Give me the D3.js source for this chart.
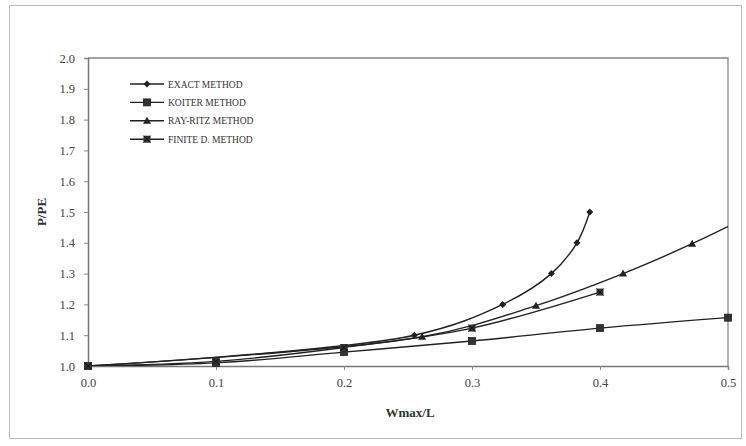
<!DOCTYPE html>
<html>
<head>
<meta charset="utf-8">
<script src="https://cdn.jsdelivr.net/npm/d3@7/dist/d3.min.js"></script>
<style>
  body { margin: 0; background: #fff; }
  svg { display: block; font-family: "Liberation Serif", "Times New Roman", serif; }
  .tick text { fill: #444; font-size: 12.5px; }
</style>
</head>
<body>
<svg width="746" height="446"></svg>
<script>
// series: [Wmax/L, P/PE]
const exactPts = [[0, 1.0], [0.255, 1.1], [0.324, 1.2], [0.362, 1.3], [0.382, 1.4], [0.392, 1.5]];
const koiterPts = [[0, 1.0], [0.1, 1.01], [0.2, 1.045], [0.3, 1.081], [0.4, 1.123], [0.5, 1.157]];
const rayRitzPts = [[0, 1.0], [0.261, 1.095], [0.35, 1.196], [0.418, 1.3], [0.472, 1.397], [0.523, 1.5]];
const finiteDPts = [[0, 1.0], [0.1, 1.015], [0.2, 1.06], [0.3, 1.123], [0.4, 1.24]];

const seriesNames = ['EXACT METHOD', 'KOITER METHOD', 'RAY-RITZ METHOD', 'FINITE D. METHOD'];
const seriesSymbols = ['diamond', 'square', 'triangle', 'squarex'];
const xTicks = [0, 0.1, 0.2, 0.3, 0.4, 0.5];
const yTicks = [1.0, 1.1, 1.2, 1.3, 1.4, 1.5, 1.6, 1.7, 1.8, 1.9, 2.0];

const series = [exactPts, koiterPts, rayRitzPts, finiteDPts].map((pts, i) => ({
  name: seriesNames[i], symbol: seriesSymbols[i], pts
}));

const svg = d3.select('svg');
const ink = '#222';

// chart area frame
svg.append('rect')
  .attr('x', 9.5).attr('y', 5.5).attr('width', 732).attr('height', 433)
  .attr('fill', 'none').attr('stroke', '#bbb');

const x = d3.scaleLinear().domain([0, 0.5]).range([88, 728]);
const y = d3.scaleLinear().domain([1.0, 2.0]).range([366, 58]);

svg.append('defs').append('clipPath').attr('id', 'plot')
  .append('rect').attr('x', 88).attr('y', 58).attr('width', 640).attr('height', 308);

// plot area frame (top/right)
svg.append('path')
  .attr('d', `M${x(0)},${y(2)}H${x(0.5)}V${y(1)}`)
  .attr('fill', 'none').attr('stroke', '#888').attr('stroke-width', 1.3);

const xAxis = svg.append('g')
  .attr('transform', `translate(0,${y(1)})`)
  .call(d3.axisBottom(x).tickValues(xTicks).tickSize(4).tickPadding(8).tickFormat(d3.format('.1f')));
const yAxis = svg.append('g')
  .attr('transform', `translate(${x(0)},0)`)
  .call(d3.axisLeft(y).tickValues(yTicks).tickSize(4).tickPadding(9).tickFormat(d3.format('.1f')));
[xAxis, yAxis].forEach(g => {
  g.select('.domain').attr('stroke', '#777').attr('stroke-width', 1.5);
  g.selectAll('.tick line').attr('stroke', '#888');
  g.attr('font-family', null).attr('font-size', null);
});

svg.append('text')
  .attr('x', 410).attr('y', 417).attr('text-anchor', 'middle')
  .attr('font-size', 13).attr('font-weight', 'bold').attr('fill', '#333')
  .text('Wmax/L');
svg.append('text')
  .attr('transform', 'translate(46,212) rotate(-90)').attr('text-anchor', 'middle')
  .attr('font-size', 13).attr('font-weight', 'bold').attr('fill', '#333')
  .text('P/PE');

const line = d3.line()
  .x(d => x(d[0])).y(d => y(d[1]))
  .curve(d3.curveCatmullRom.alpha(0.5));

function drawMarker(g, symbol, cx, cy) {
  if (symbol === 'diamond') {
    g.append('path').attr('d', `M${cx},${cy - 3.5}L${cx + 3.5},${cy}L${cx},${cy + 3.5}L${cx - 3.5},${cy}Z`)
      .attr('fill', ink);
  } else if (symbol === 'square') {
    g.append('rect').attr('x', cx - 3.5).attr('y', cy - 3.5).attr('width', 7).attr('height', 7)
      .attr('fill', '#333').attr('stroke', ink).attr('stroke-width', 0.8);
  } else if (symbol === 'triangle') {
    g.append('path').attr('d', `M${cx},${cy - 4}L${cx + 4},${cy + 3}L${cx - 4},${cy + 3}Z`)
      .attr('fill', ink);
  } else {
    g.append('rect').attr('x', cx - 3.5).attr('y', cy - 3.5).attr('width', 7).attr('height', 7)
      .attr('fill', '#333');
    g.append('path').attr('d', `M${cx - 3.5},${cy - 3.5}L${cx + 3.5},${cy + 3.5}M${cx + 3.5},${cy - 3.5}L${cx - 3.5},${cy + 3.5}`)
      .attr('stroke', '#111').attr('stroke-width', 1);
  }
}

const plot = svg.append('g').attr('clip-path', 'url(#plot)');
const markerLayer = svg.append('g');
series.forEach(s => {
  plot.append('path').datum(s.pts)
    .attr('d', line)
    .attr('fill', 'none').attr('stroke', ink).attr('stroke-width', 1.4);
  s.pts.filter(d => d[0] <= 0.5 && d[1] <= 2).forEach(d => {
    drawMarker(markerLayer, s.symbol, x(d[0]), y(d[1]));
  });
});

// legend
const legend = svg.append('g');
series.forEach((s, i) => {
  const ly = 84 + i * 18.4;
  legend.append('line').attr('x1', 130).attr('x2', 164).attr('y1', ly).attr('y2', ly)
    .attr('stroke', ink).attr('stroke-width', 1.4);
  drawMarker(legend, s.symbol, 147, ly);
  legend.append('text').attr('x', 168).attr('y', ly + 3.5)
    .attr('font-size', 9.5).attr('fill', '#333').text(s.name);
});
</script>
</body>
</html>
